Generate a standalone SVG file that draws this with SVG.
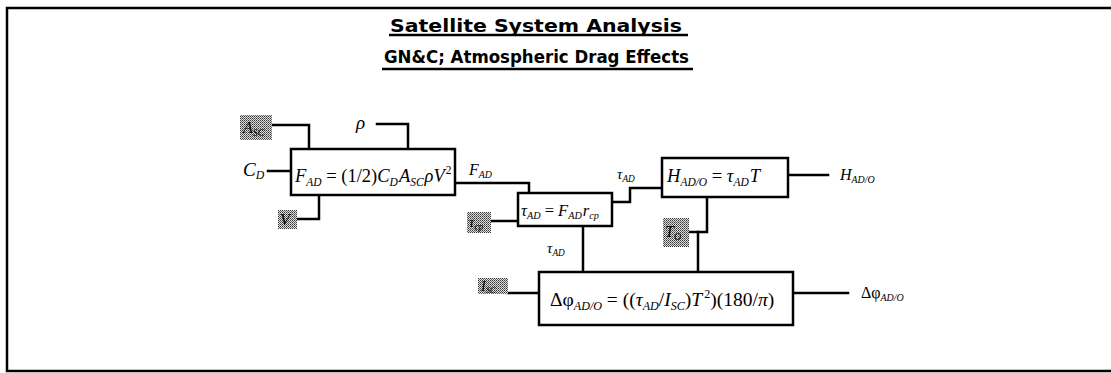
<svg xmlns="http://www.w3.org/2000/svg" width="1111" height="373" viewBox="0 0 1111 373">
<defs>
<pattern id="stip" width="2" height="2" patternUnits="userSpaceOnUse">
<rect width="2" height="2" fill="#e0e0e0"/>
<rect width="1" height="1" fill="#333"/>
<rect x="1" y="1" width="1" height="1" fill="#666"/>
</pattern>
</defs>
<style>
.frame{fill:none;stroke:#000;stroke-width:2.5}
.box{fill:#fff;stroke:#000;stroke-width:2.5}
.ln{fill:none;stroke:#000;stroke-width:2.5;stroke-linejoin:miter;stroke-linecap:square}
.ul{stroke:#000;stroke-width:2.5}
.ttl{font-family:"DejaVu Sans Condensed","DejaVu Sans",sans-serif;font-weight:bold;font-size:18px;fill:#000}
.m{font-family:"Liberation Serif",serif;font-style:italic;fill:#000}
.up{font-style:normal}
.sub{font-size:62%}
.sh{fill:url(#stip)}
</style>
<path class="frame" d="M1111,8 H7 V371 H1111"/>
<g id="title">
<text class="ttl" x="390" y="32" textLength="292" lengthAdjust="spacingAndGlyphs">Satellite System Analysis</text>
<line class="ul" x1="389" y1="35" x2="688" y2="35"/>
<text class="ttl" x="384" y="63" textLength="305" lengthAdjust="spacingAndGlyphs">GN&amp;C; Atmospheric Drag Effects</text>
<line class="ul" x1="382" y1="69" x2="693" y2="69"/>
</g>
<g id="connectors">
<polyline class="ln" points="272,125 309,125 309,149"/>
<polyline class="ln" points="377,124 408,124 408,149"/>
<polyline class="ln" points="268,171 291,171"/>
<polyline class="ln" points="319,195 319,219 297,219"/>
<polyline class="ln" points="455,183 529,183 529,193"/>
<polyline class="ln" points="491,221 518,221"/>
<polyline class="ln" points="612,202 630,202 630,188 662,188"/>
<polyline class="ln" points="788,175 828,175"/>
<polyline class="ln" points="707,197 707,232 690,232"/>
<polyline class="ln" points="698,232 698,272"/>
<polyline class="ln" points="583,226 583,272"/>
<polyline class="ln" points="508,293 539,293"/>
<polyline class="ln" points="793,293 848,293"/>
</g>
<g id="in-asc">
<rect class="sh" x="240" y="115" width="32" height="25"/>
<text class="m" x="243" y="133" font-size="16">A<tspan class="sub" dy="3">SC</tspan></text>
</g>
<g id="in-rho">
<text class="m" x="356" y="129" font-size="19">ρ</text>
</g>
<g id="in-cd">
<text class="m" x="243" y="176" font-size="19">C<tspan class="sub" dy="3">D</tspan></text>
</g>
<g id="in-v">
<rect class="sh" x="278" y="210" width="19" height="19"/>
<text class="m" x="280" y="225" font-size="16">V</text>
</g>
<g id="node-fad">
<rect class="box" x="291" y="149" width="164" height="46"/>
<text class="m" x="295" y="182" font-size="18.5">F<tspan class="sub" dy="4">AD</tspan><tspan class="up" dy="-4"> = (1/2)</tspan>C<tspan class="sub" dy="4">D</tspan><tspan dy="-4" dx="1">A</tspan><tspan class="sub" dy="4">SC</tspan><tspan dy="-4" dx="1">ρV</tspan><tspan class="up sub" dy="-8" dx="1">2</tspan></text>
</g>
<g id="lbl-fad">
<text class="m" x="469" y="175" font-size="16">F<tspan class="sub" dy="3">AD</tspan></text>
</g>
<g id="in-tcp">
<rect class="sh" x="467" y="212" width="24" height="21"/>
<text class="m" x="469" y="227" font-size="15">τ<tspan class="sub" dy="3">cp</tspan></text>
</g>
<g id="node-tad">
<rect class="box" x="518" y="193" width="94" height="33"/>
<text class="m" x="521" y="216" font-size="16.5">τ<tspan class="sub" dy="3">AD</tspan><tspan class="up" dy="-3"> = </tspan>F<tspan class="sub" dy="3">AD</tspan><tspan dy="-3" dx="1">r</tspan><tspan class="sub" dy="3">cp</tspan></text>
</g>
<g id="lbl-tad1">
<text class="m" x="617" y="179" font-size="15">τ<tspan class="sub" dy="3">AD</tspan></text>
</g>
<g id="node-h">
<rect class="box" x="662" y="158" width="126" height="39"/>
<text class="m" x="667" y="182" font-size="18.5">H<tspan class="sub" dy="4">AD/O</tspan><tspan class="up" dy="-4"> = </tspan>τ<tspan class="sub" dy="4">AD</tspan><tspan dy="-4" dx="1">T</tspan></text>
</g>
<g id="out-h">
<text class="m" x="840" y="180" font-size="16">H<tspan class="sub" dy="3">AD/O</tspan></text>
</g>
<g id="in-to">
<rect class="sh" x="663" y="218" width="26" height="29"/>
<text class="m" x="665" y="237" font-size="16">T<tspan class="sub" dy="3">O</tspan></text>
</g>
<g id="lbl-tad2">
<text class="m" x="547" y="253" font-size="15">τ<tspan class="sub" dy="3">AD</tspan></text>
</g>
<g id="in-isc">
<rect class="sh" x="478" y="278" width="30" height="16"/>
<text class="m" x="481" y="291" font-size="14">I<tspan class="sub" dy="2">SC</tspan></text>
</g>
<g id="node-dphi">
<rect class="box" x="539" y="272" width="254" height="53"/>
<text class="m" x="550" y="306" font-size="19.5"><tspan class="up">Δφ</tspan><tspan class="sub" dy="4">AD/O</tspan><tspan class="up" dy="-4"> = ((</tspan>τ<tspan class="sub" dy="4">AD</tspan><tspan class="up" dy="-4">/</tspan>I<tspan class="sub" dy="4">SC</tspan><tspan class="up" dy="-4">)</tspan>T<tspan class="up sub" dy="-8" dx="2">2</tspan><tspan class="up" dy="8">)(180/</tspan>π<tspan class="up">)</tspan></text>
</g>
<g id="out-dphi">
<text class="m" x="861" y="298" font-size="16"><tspan class="up">Δφ</tspan><tspan class="sub" dy="3">AD/O</tspan></text>
</g>
</svg>
